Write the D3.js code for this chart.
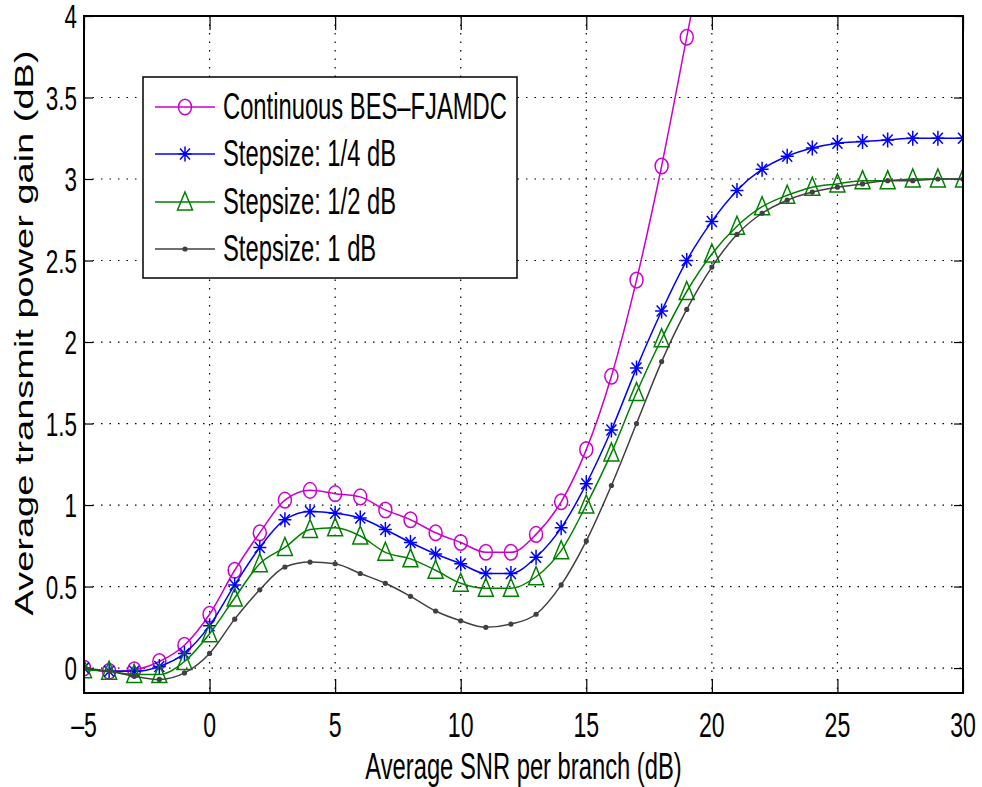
<!DOCTYPE html>
<html>
<head>
<meta charset="utf-8">
<script src="https://cdn.jsdelivr.net/npm/d3@7"></script>
<style>
  body { margin: 0; background: #fff; }
  text { font-family: "Liberation Sans", Arial, sans-serif; fill: #000; }
</style>
</head>
<body>
<div class="canvas"></div>
<script>
// x values (dB)
var snr = [-5, -4, -3, -2, -1, 0, 1, 2, 3, 4, 5, 6, 7, 8, 9, 10, 11, 12, 13, 14, 15, 16, 17, 18, 19, 20,
  21, 22, 23, 24, 25, 26, 27, 28, 29, 30];

// series values
var continuousGain = [0.00, -0.02, -0.01, 0.04, 0.14, 0.33, 0.60, 0.83, 1.03, 1.09, 1.07, 1.05, 0.97, 0.91,
  0.83, 0.77, 0.71, 0.71, 0.82, 1.02, 1.34, 1.79, 2.38, 3.08, 3.87, 4.66];
var quarterGain = [0.00, -0.02, -0.02, 0.01, 0.09, 0.26, 0.51, 0.74, 0.91, 0.96, 0.95, 0.92, 0.85, 0.77,
  0.70, 0.64, 0.58, 0.58, 0.68, 0.86, 1.13, 1.46, 1.84, 2.19, 2.50, 2.74, 2.93, 3.06, 3.14, 3.19, 3.22,
  3.23, 3.24, 3.25, 3.25, 3.25];
var halfGain = [-0.01, -0.02, -0.04, -0.04, 0.04, 0.21, 0.43, 0.64, 0.74, 0.85, 0.86, 0.81, 0.71, 0.67,
  0.60, 0.52, 0.49, 0.49, 0.56, 0.72, 1.00, 1.32, 1.69, 2.02, 2.31, 2.54, 2.71, 2.83, 2.90, 2.95, 2.97,
  2.99, 2.99, 3.00, 3.00, 3.00];
var oneGain = [0.00, -0.02, -0.05, -0.07, -0.03, 0.09, 0.30, 0.48, 0.62, 0.65, 0.64, 0.58, 0.52, 0.44,
  0.35, 0.29, 0.25, 0.27, 0.33, 0.51, 0.78, 1.12, 1.50, 1.88, 2.20, 2.46, 2.66, 2.79, 2.87, 2.92, 2.95,
  2.97, 2.99, 2.99, 3.00, 3.00];

var seriesNames = ['Continuous BES\u2013FJAMDC', 'Stepsize: 1/4 dB', 'Stepsize: 1/2 dB', 'Stepsize: 1 dB'];
var xTicks = [-5, 0, 5, 10, 15, 20, 25, 30];
var yTicks = [0, 0.5, 1, 1.5, 2, 2.5, 3, 3.5, 4];

var width = 982, height = 787;
var pLeft = 84, pRight = 963, pTop = 16, pBottom = 693;

var svg = d3.select('.canvas').append('svg')
  .attr('width', width).attr('height', height);

var x = d3.scaleLinear().domain([-5, 30]).range([pLeft, pRight]);
var y = d3.scaleLinear().domain([-0.153, 4]).range([pBottom, pTop]);

// clip for plot area
svg.append('defs').append('clipPath').attr('id', 'clip')
  .append('rect').attr('x', pLeft).attr('y', pTop).attr('width', pRight - pLeft).attr('height', pBottom - pTop);

// dotted grid
var grid = svg.append('g');
xTicks.forEach(function (t) {
  grid.append('line').attr('x1', x(t)).attr('x2', x(t)).attr('y1', pTop).attr('y2', pBottom)
    .attr('stroke', '#000').attr('stroke-width', 1.2).attr('stroke-dasharray', '1.5,7');
});
yTicks.forEach(function (t) {
  grid.append('line').attr('x1', pLeft).attr('x2', pRight).attr('y1', y(t)).attr('y2', y(t))
    .attr('stroke', '#000').attr('stroke-width', 1.2).attr('stroke-dasharray', '1.5,7');
});

// inward ticks on all sides
var axisBottom = d3.axisBottom(x).tickValues(xTicks).tickSize(-14).tickFormat('');
var axisTop = d3.axisTop(x).tickValues(xTicks).tickSize(-14).tickFormat('');
var axisLeft = d3.axisLeft(y).tickValues(yTicks).tickSize(-9).tickFormat('');
var axisRight = d3.axisRight(y).tickValues(yTicks).tickSize(-9).tickFormat('');
[
  [axisBottom, 'translate(0,' + pBottom + ')'],
  [axisTop, 'translate(0,' + pTop + ')'],
  [axisLeft, 'translate(' + pLeft + ',0)'],
  [axisRight, 'translate(' + pRight + ',0)']
].forEach(function (a) {
  var g = svg.append('g').attr('transform', a[1]).call(a[0]);
  g.select('.domain').remove();
  g.selectAll('line').attr('stroke', '#000').attr('stroke-width', 1.2);
});

// series
var colors = ['#cc00cc', '#0000ff', '#008000', '#404040'];
var allSeries = [continuousGain, quarterGain, halfGain, oneGain];
var markers = ['circle', 'star', 'triangle', 'dot'];

var line = d3.line()
  .x(function (d) { return x(d[0]); })
  .y(function (d) { return y(d[1]); })
  .curve(d3.curveMonotoneX);

function drawMarker(g, type, color, cx, cy) {
  if (type === 'circle') {
    g.append('ellipse').attr('cx', cx).attr('cy', cy).attr('rx', 6.5).attr('ry', 7.8)
      .attr('fill', 'none').attr('stroke', color).attr('stroke-width', 1.5);
  } else if (type === 'star') {
    var p = 'M' + cx + ',' + (cy - 7.5) + 'V' + (cy + 7.5) +
      'M' + (cx - 6.5) + ',' + cy + 'H' + (cx + 6.5) +
      'M' + (cx - 5) + ',' + (cy - 5.5) + 'L' + (cx + 5) + ',' + (cy + 5.5) +
      'M' + (cx - 5) + ',' + (cy + 5.5) + 'L' + (cx + 5) + ',' + (cy - 5.5);
    g.append('path').attr('d', p).attr('fill', 'none').attr('stroke', color).attr('stroke-width', 1.5);
  } else if (type === 'triangle') {
    var t = 'M' + cx + ',' + (cy - 10) + 'L' + (cx + 7.5) + ',' + (cy + 8) + 'L' + (cx - 7.5) + ',' + (cy + 8) + 'Z';
    g.append('path').attr('d', t).attr('fill', 'none').attr('stroke', color).attr('stroke-width', 1.5);
  } else {
    g.append('circle').attr('cx', cx).attr('cy', cy).attr('r', 2.6).attr('fill', color);
  }
}

var plot = svg.append('g').attr('clip-path', 'url(#clip)');
allSeries.forEach(function (vals, i) {
  var pts = vals.map(function (v, j) { return [snr[j], v]; });
  plot.append('path').datum(pts).attr('d', line)
    .attr('fill', 'none').attr('stroke', colors[i]).attr('stroke-width', 1.5);
  pts.forEach(function (p) {
    drawMarker(plot, markers[i], colors[i], x(p[0]), y(p[1]));
  });
});

// axes box
svg.append('rect').attr('x', pLeft).attr('y', pTop).attr('width', pRight - pLeft).attr('height', pBottom - pTop)
  .attr('fill', 'none').attr('stroke', '#000').attr('stroke-width', 2);

// squeezed text like the original figure
function label(g, tx, ty, txt, anchor, size) {
  return g.append('text')
    .attr('transform', 'translate(' + tx + ',' + ty + ') scale(0.66,1)')
    .attr('text-anchor', anchor)
    .style('font-size', size + 'px')
    .text(txt);
}

xTicks.forEach(function (t) {
  label(svg, x(t), 737, t < 0 ? '\u2013' + (-t) : String(t), 'middle', 35);
});
yTicks.forEach(function (t) {
  label(svg, 77, y(t) + 12, String(t), 'end', 34);
});

label(svg, (pLeft + pRight) / 2, 779, 'Average SNR per branch (dB)', 'middle', 36);

svg.append('text')
  .attr('transform', 'translate(33,333) rotate(-90) scale(1,0.7)')
  .attr('text-anchor', 'middle')
  .style('font-size', '38px')
  .text('Average transmit power gain (dB)');

// legend
var legend = svg.append('g');
legend.append('rect').attr('x', 143).attr('y', 77).attr('width', 374).attr('height', 201)
  .attr('fill', '#fff').attr('stroke', '#000').attr('stroke-width', 1.5);
var rowY = [107, 154, 202, 249];
seriesNames.forEach(function (name, i) {
  legend.append('line').attr('x1', 155).attr('x2', 215).attr('y1', rowY[i]).attr('y2', rowY[i])
    .attr('stroke', colors[i]).attr('stroke-width', 1.5);
  drawMarker(legend, markers[i], colors[i], 185, rowY[i]);
  label(legend, 223, rowY[i] + 12, name, 'start', 36);
});
</script>
</body>
</html>
